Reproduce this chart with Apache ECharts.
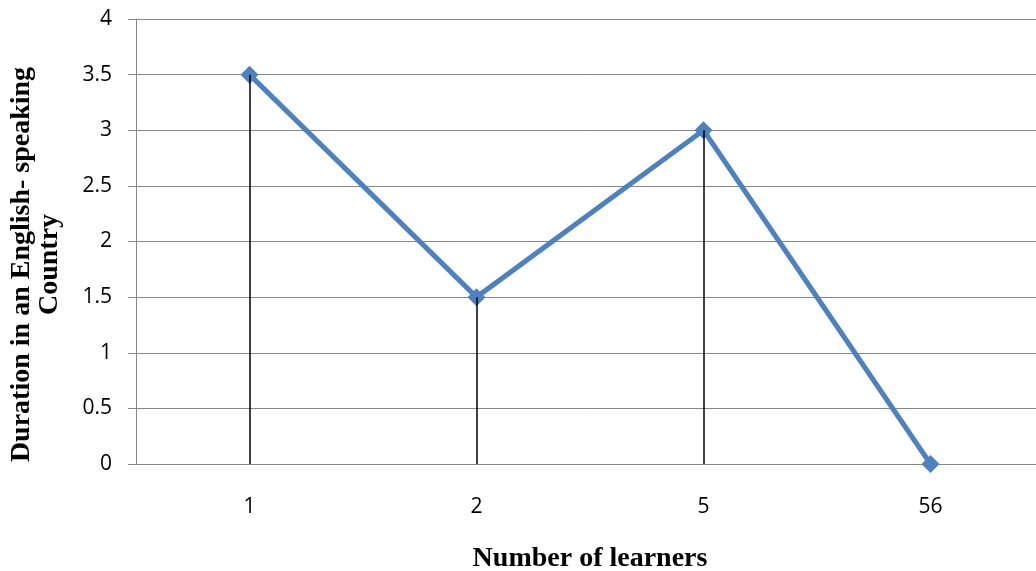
<!DOCTYPE html>
<html>
<head>
<meta charset="utf-8">
<script src="https://cdn.jsdelivr.net/npm/echarts@6/dist/echarts.min.js"></script>
<style>
  html, body { margin: 0; padding: 0; background: #fff; }
  #chart { width: 1036px; height: 571px; }
</style>
</head>
<body>
<div id="chart"></div>
<script>
// Number of learners by duration spent in an English-speaking country
const categories = ['1', '2', '5', '56'];
const durations = [3.5, 1.5, 3, 0];
const yTicks = [0, 0.5, 1, 1.5, 2, 2.5, 3, 3.5, 4];

// Vertical drop lines from each point down to the category axis
const dropLines = categories.map((c, i) => [
  { coord: [i, durations[i]] },
  { coord: [i, 0] }
]);

const chart = echarts.init(document.getElementById('chart'), null, { renderer: 'canvas' });
chart.setOption({
  animation: false,
  backgroundColor: '#ffffff',
  grid: { left: 136, right: -8, top: 19, bottom: 107, containLabel: false, outerBoundsMode: 'none' },
  xAxis: {
    type: 'category',
    data: categories,
    boundaryGap: true,
    name: 'Number of learners',
    nameLocation: 'middle',
    nameGap: 81,
    nameTextStyle: { fontFamily: 'Liberation Serif', fontWeight: 'bold', fontSize: 28, color: '#000' },
    axisLine: { show: true, lineStyle: { color: '#868686', width: 1 } },
    axisTick: { show: false },
    axisLabel: { fontFamily: 'Open Sans', fontSize: 21, color: '#000', margin: 33 },
    splitLine: { show: false }
  },
  yAxis: {
    type: 'value',
    min: yTicks[0],
    max: yTicks[yTicks.length - 1],
    interval: 0.5,
    name: 'Duration in an English- speaking\nCountry',
    nameLocation: 'middle',
    nameGap: 72,
    nameRotate: 90,
    nameTextStyle: {
      fontFamily: 'Liberation Serif', fontWeight: 'bold', fontSize: 28, color: '#000',
      lineHeight: 28, padding: [0, 46, 0, 0]
    },
    axisLine: { show: true, lineStyle: { color: '#868686', width: 1 } },
    axisTick: { show: true, length: 8, lineStyle: { color: '#868686', width: 1 } },
    axisLabel: { fontFamily: 'Open Sans', fontSize: 21, color: '#000', margin: 24 },
    splitLine: { show: true, lineStyle: { color: '#868686', width: 1 } }
  },
  series: [
    {
      type: 'line',
      data: durations,
      symbol: 'none',
      lineStyle: { opacity: 0 },
      silent: true,
      z: 1,
      markLine: {
        silent: true,
        symbol: ['none', 'none'],
        label: { show: false },
        lineStyle: { color: '#000', width: 1.5, type: 'solid' },
        data: dropLines
      }
    },
    {
      type: 'line',
      data: durations,
      symbol: 'diamond',
      symbolSize: 18,
      itemStyle: { color: '#4F81BD' },
      lineStyle: { color: '#4F81BD', width: 5 },
      z: 3
    }
  ]
});
</script>
</body>
</html>
